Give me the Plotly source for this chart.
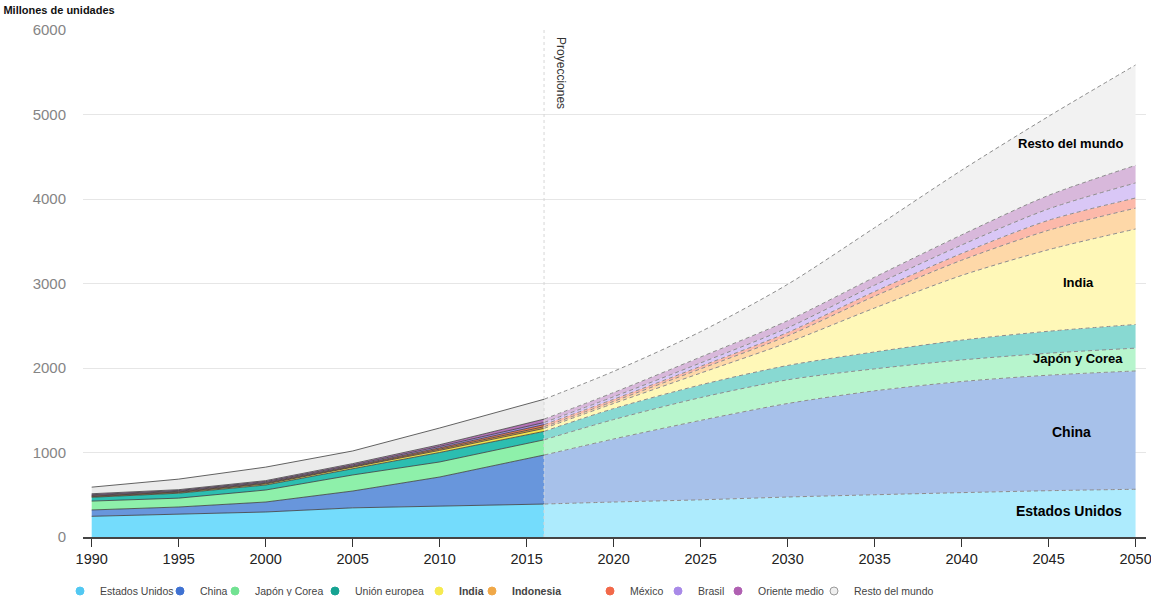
import plotly.graph_objects as go

# ---------------- data ----------------
series_names = ["Estados Unidos", "China", "Japón y Corea", "Unión europea", "India",
                "Indonesia", "México", "Brasil", "Oriente medio", "Resto del mundo"]
legend_labels = ["Estados Unidos", "China", "Japón y Corea", "Unión europea", "<b>India</b>",
                 "<b>Indonesia</b>", "México", "Brasil", "Oriente medio", "Resto del mundo"]

hist_years = [1990, 1995, 2000, 2005, 2010, 2016]
hist_us = [245, 272, 296, 345, 367, 390]
hist_china = [75, 83, 118, 199, 343, 580]
hist_japon_corea = [105, 105, 142, 190, 178, 180]
hist_ue = [45, 58, 59, 71, 112, 100]
hist_india = [8, 9, 13, 17, 25, 35]
hist_indonesia = [5, 6, 8, 10, 15, 20]
hist_mexico = [8, 8, 9, 10, 15, 25]
hist_brasil = [9, 9, 10, 11, 17, 25]
hist_oriente = [12, 10, 12, 15, 20, 40]
hist_resto = [78, 125, 160, 150, 198, 235]

proj_years = [2016, 2020, 2025, 2030, 2035, 2040, 2045, 2050]
proj_us = [390, 414, 440, 473, 500, 525, 548, 565]
proj_china = [580, 746, 940, 1107, 1230, 1315, 1367, 1400]
proj_japon_corea = [180, 230, 270, 280, 260, 255, 260, 270]
proj_ue = [100, 130, 150, 170, 200, 235, 260, 280]
proj_india = [35, 60, 140, 270, 520, 765, 965, 1130]
proj_indonesia = [20, 25, 50, 80, 140, 180, 230, 247]
proj_mexico = [25, 25, 30, 40, 55, 80, 118, 120]
proj_brasil = [25, 30, 40, 55, 75, 100, 135, 178]
proj_oriente = [40, 50, 70, 85, 95, 120, 160, 208]
proj_resto = [235, 250, 300, 430, 585, 765, 935, 1188]

x_ticks = [1990, 1995, 2000, 2005, 2010, 2015, 2020, 2025, 2030, 2035, 2040, 2045, 2050]
y_ticks = [0, 1000, 2000, 3000, 4000, 5000, 6000]

# label annotations (text, year, value)
area_labels = ["Resto del mundo", "India", "Japón y Corea", "China", "Estados Unidos"]
area_label_x = [2046.3, 2046.7, 2046.7, 2046.3, 2046.2]
area_label_y = [4660, 3006, 2118, 1243, 308]
projection_year = 2016

hist_series = [hist_us, hist_china, hist_japon_corea, hist_ue, hist_india,
               hist_indonesia, hist_mexico, hist_brasil, hist_oriente, hist_resto]
proj_series = [proj_us, proj_china, proj_japon_corea, proj_ue, proj_india,
               proj_indonesia, proj_mexico, proj_brasil, proj_oriente, proj_resto]

# ---------------- styles ----------------
hist_colors = ["#74dcfc", "#6896dc", "#8ef0aa", "#2cbeb0", "#f3e24e",
               "#e8a040", "#ee7a5a", "#a98ce6", "#b574b8", "#ebebeb"]
proj_colors = ["#adebfd", "#a7c1ea", "#b7f5cd", "#88d9d2", "#fff8b8",
               "#fed8a8", "#fcb9aa", "#d9c7f6", "#d8b8db", "#f2f2f2"]
legend_colors = ["#52c8f2", "#3f72d2", "#72e292", "#16a392", "#f6ea50",
                 "#f0a848", "#f2694a", "#a98ae8", "#b060b2", "#efefef"]
legend_widths = [55, 10, 55, 59, 8, 73, 23, 15, 51, 85]

fig = go.Figure()

for i, name in enumerate(series_names):
    fig.add_trace(go.Scatter(
        x=hist_years, y=hist_series[i], name=name, stackgroup="hist",
        mode="lines", line=dict(color="#3c3c3c", width=0.8),
        fillcolor=hist_colors[i], showlegend=False, hoverinfo="x+y+name"))

for i, name in enumerate(series_names):
    fig.add_trace(go.Scatter(
        x=proj_years, y=proj_series[i], name=name, stackgroup="proj",
        mode="lines", line=dict(color="#8c8c8c", width=1, dash="4px,3px", shape="spline", smoothing=0.8),
        fillcolor=proj_colors[i], showlegend=False, hoverinfo="x+y+name"))

for i, lab in enumerate(legend_labels):
    fig.add_trace(go.Scatter(
        x=[None], y=[None], name=lab, mode="markers",
        marker=dict(size=8, color=legend_colors[i],
                    line=dict(color="#9a9a9a" if i == 9 else legend_colors[i], width=1)),
        legendwidth=legend_widths[i], showlegend=True))

annotations = []
for t, ax, ay in zip(area_labels, area_label_x, area_label_y):
    annotations.append(dict(
        x=ax, y=ay, xref="x", yref="y", text="<b>" + t + "</b>", showarrow=False,
        font=dict(family="Liberation Sans, Arial", size=14 if t in ("China", "Estados Unidos") else 13,
                  color="#000000")))

annotations.append(dict(
    x=projection_year, xref="x", y=0.99, yref="paper", text="Proyecciones", textangle=90,
    showarrow=False, xanchor="center", yanchor="top", xshift=17,
    font=dict(family="Liberation Sans, Arial", size=12, color="#333333")))

fig.update_layout(
    width=1151, height=596,
    margin=dict(l=83, r=5, t=30, b=59, autoexpand=False),
    paper_bgcolor="white", plot_bgcolor="white",
    title=dict(text="<b>Millones de unidades</b>", x=0.003, xanchor="left", xref="container",
               y=1 - 10 / 596, yanchor="middle", yref="container",
               font=dict(family="Liberation Sans, Arial", size=11, color="#111111")),
    showlegend=True,
    legend=dict(orientation="h", x=60 / 1151, xanchor="left", xref="container",
                y=1 - 591 / 596, yanchor="middle", yref="container", traceorder="normal",
                font=dict(family="Liberation Sans, Arial", size=10.5, color="#444444"),
                itemwidth=30, bgcolor="rgba(0,0,0,0)", borderwidth=0),
    annotations=annotations,
    shapes=[dict(type="line", xref="x", yref="paper", x0=projection_year, x1=projection_year,
                 y0=0, y1=1, line=dict(color="#d6d6d6", width=1, dash="dot"), layer="above")],
    xaxis=dict(range=[1989.5, 2050.6], tickmode="array", tickvals=x_ticks, automargin=False,
               ticks="outside", ticklen=8, tickwidth=1.3, tickcolor="#333333",
               showline=True, linecolor="#444444", linewidth=2, showgrid=False, zeroline=False,
               ticklabeloverflow="allow",
               tickfont=dict(family="Liberation Sans Narrow, Arial Narrow, Liberation Sans", size=14.5, color="#222222")),
    yaxis=dict(range=[0, 6000], tickmode="array", tickvals=y_ticks, automargin=False,
               showgrid=True, gridcolor="#e6e6e6", gridwidth=1, zeroline=False, showline=False,
               ticks="", ticklabelstandoff=16,
               tickfont=dict(family="Liberation Sans, Arial", size=15, color="#858585")),
)

fig.write_html("out.html", config={"displayModeBar": False},
               post_script="document.body.style.margin='0';")
